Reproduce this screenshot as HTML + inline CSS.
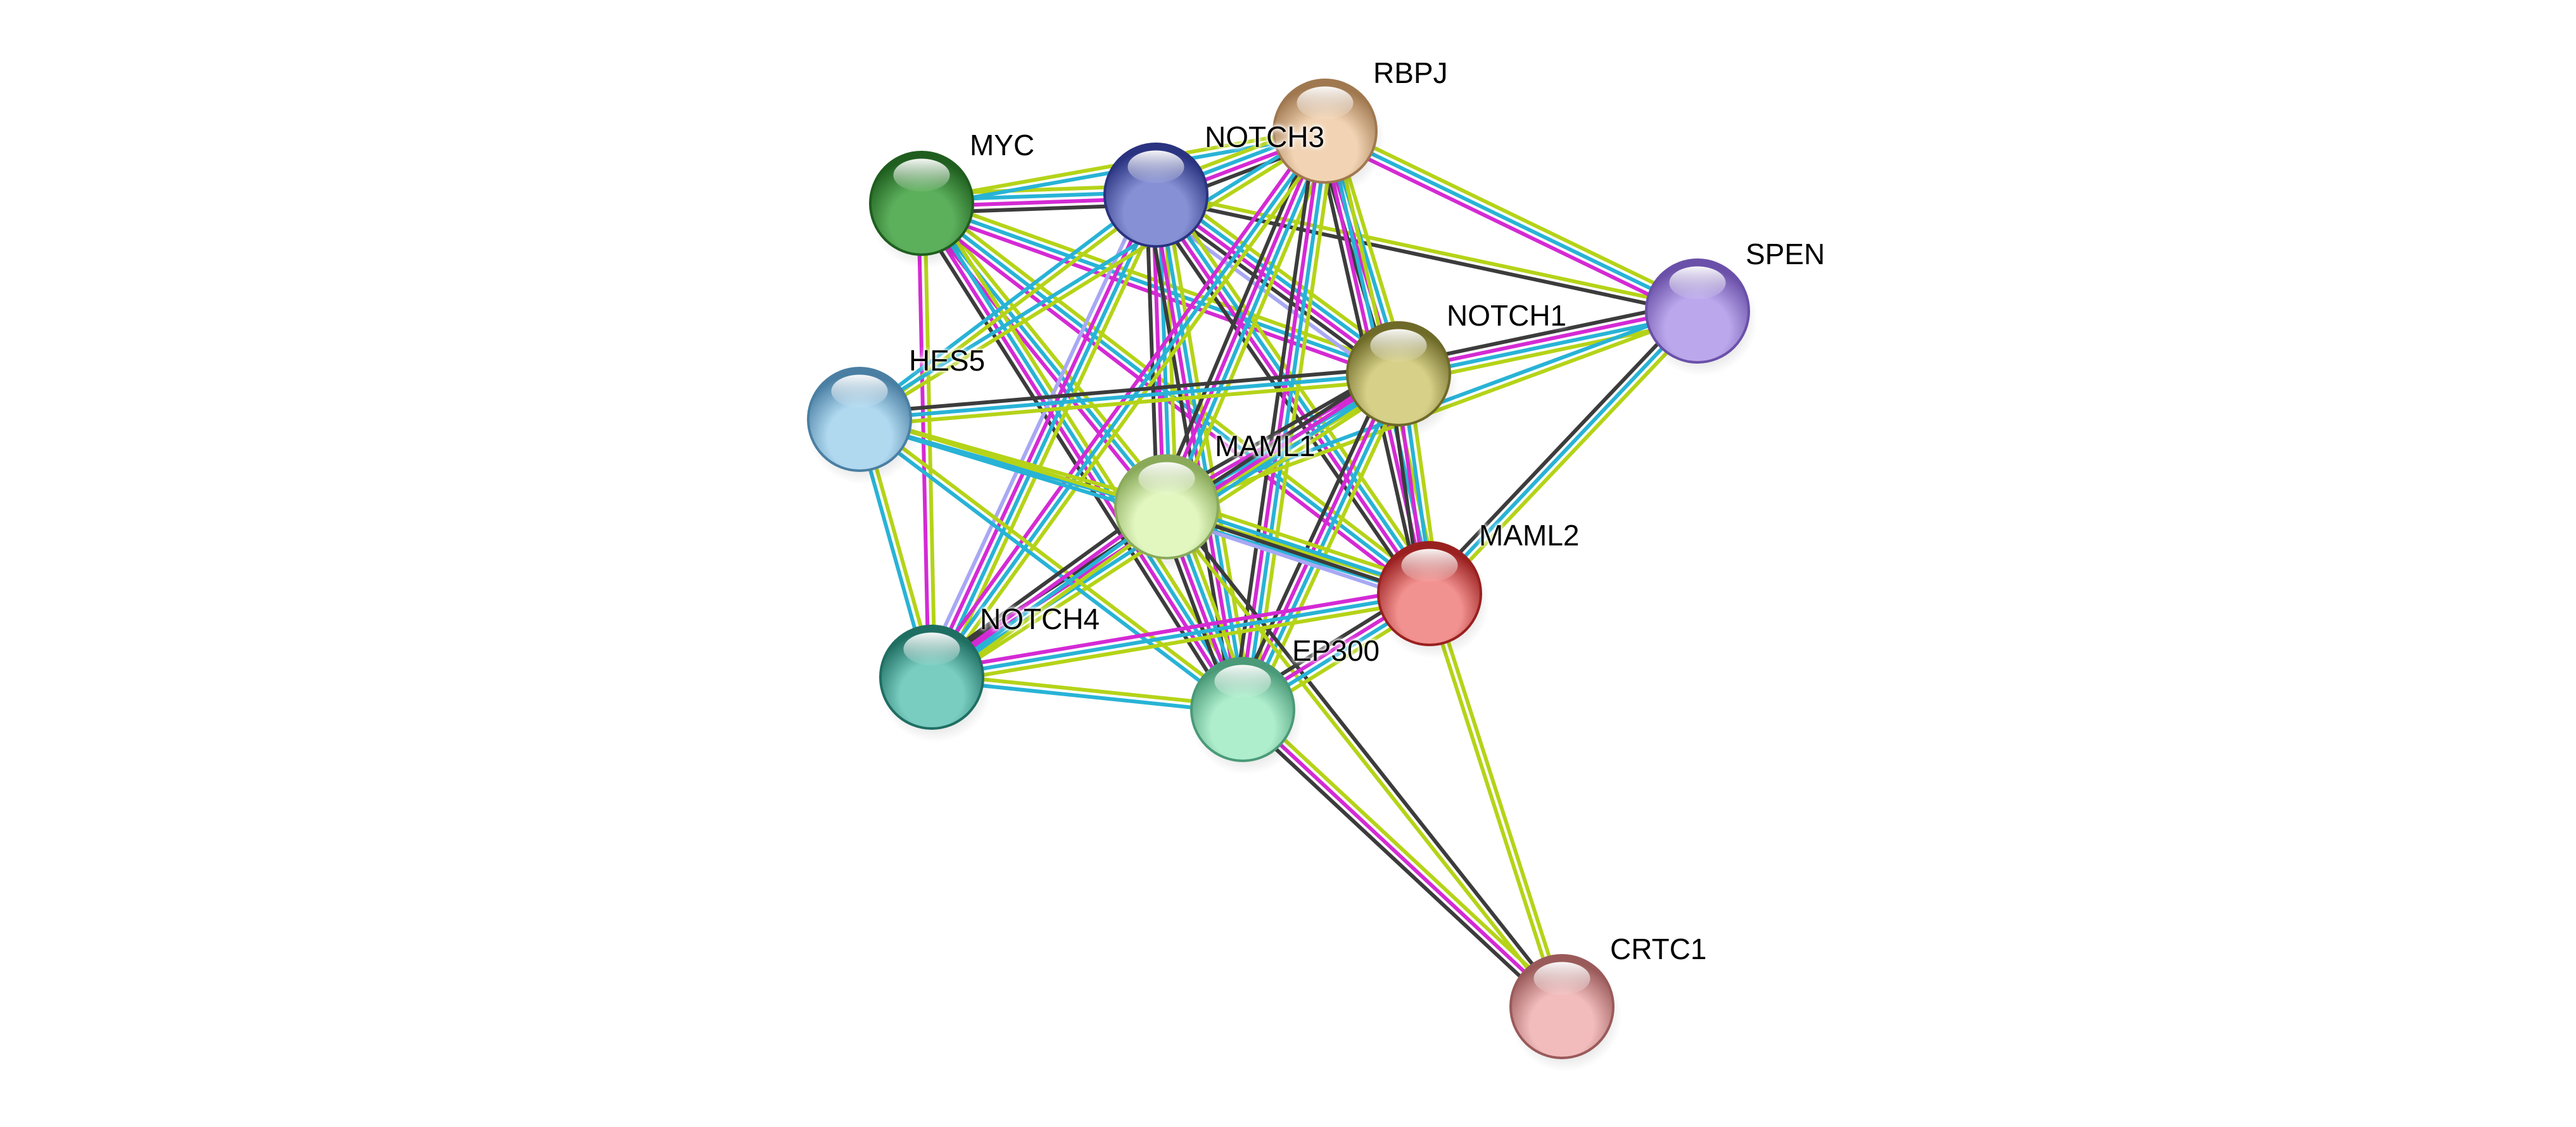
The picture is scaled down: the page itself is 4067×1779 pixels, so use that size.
<!DOCTYPE html>
<html><head><meta charset="utf-8"><style>
html,body{margin:0;padding:0;background:#fff;}
#wrap{position:relative;width:4067px;height:1779px;overflow:hidden;background:#fff;}
svg{position:absolute;left:0;top:0;}
.lb{position:absolute;font-family:"Liberation Sans",sans-serif;font-size:46px;color:#000;line-height:1;text-shadow:0 0 6px #fff,0 0 6px #fff,0 0 10px #fff;white-space:nowrap;}
</style></head><body><div id="wrap">
<svg id="s" width="4067" height="1779" viewBox="0 0 4067 1779"></svg>
<div class="lb" style="left:1531px;top:206px">MYC</div>
<div class="lb" style="left:1902px;top:193px">NOTCH3</div>
<div class="lb" style="left:2168px;top:92px">RBPJ</div>
<div class="lb" style="left:2756px;top:378px">SPEN</div>
<div class="lb" style="left:2284px;top:475px">NOTCH1</div>
<div class="lb" style="left:1435px;top:546px">HES5</div>
<div class="lb" style="left:1918px;top:681px">MAML1</div>
<div class="lb" style="left:2335px;top:822px">MAML2</div>
<div class="lb" style="left:1547px;top:954px">NOTCH4</div>
<div class="lb" style="left:2040px;top:1004px">EP300</div>
<div class="lb" style="left:2542px;top:1475px">CRTC1</div>
</div>
<script>
var N={
MYC:[1455,321,'#5cb05c','#1f5e1f'],
NOTCH3:[1825,308,'#8690d4','#2a3380'],
RBPJ:[2092,207,'#f2d4b4','#a07850'],
SPEN:[2680,491,'#bba8ec','#6a50a8'],
NOTCH1:[2208,590,'#d6d088','#6e6a28'],
HES5:[1357,662,'#b0d9f0','#4a7fa3'],
MAML1:[1842,800,'#e2f7c0','#8aaa5a'],
MAML2:[2257,937,'#f29290','#9a2020'],
NOTCH4:[1471,1069,'#78ccc0','#1f6e62'],
EP300:[1962,1120,'#aeeecd','#4a9a78'],
CRTC1:[2466,1589,'#f2bcbc','#9a5a5a']
};
var C={y:'#b5d318',c:'#28b3d6',m:'#d42ad4',k:'#3c3c3c',l:'#a8a8f4'};
var E=[
['MYC','NOTCH3','ycmk'],['MYC','RBPJ','yc'],['MYC','NOTCH1','ycm'],['MYC','MAML1','ycm'],['MYC','MAML2','ycm'],['MYC','EP300','ycmk'],['MYC','NOTCH4','ym'],
['NOTCH3','RBPJ','ycmk'],['NOTCH3','SPEN','yk'],['NOTCH3','NOTCH1','ycmkl'],['NOTCH3','HES5','yc'],['NOTCH3','MAML1','ycmk'],['NOTCH3','MAML2','ycmk'],['NOTCH3','NOTCH4','ycml'],['NOTCH3','EP300','ycmk'],
['RBPJ','SPEN','ycm'],['RBPJ','NOTCH1','ycmk'],['RBPJ','HES5','yc'],['RBPJ','MAML1','ycmk'],['RBPJ','MAML2','ycmk'],['RBPJ','NOTCH4','ycm'],['RBPJ','EP300','ycmk'],
['SPEN','NOTCH1','ycmk'],['SPEN','MAML2','yck'],['SPEN','MAML1','yc'],
['NOTCH1','HES5','yck'],['NOTCH1','MAML1','ycmk'],['NOTCH1','MAML2','ycmk'],['NOTCH1','NOTCH4','ycmk'],['NOTCH1','EP300','ycmk'],
['HES5','MAML1','yc'],['HES5','MAML2','yc'],['HES5','NOTCH4','yc'],['HES5','EP300','yc'],
['MAML1','MAML2','yckl'],['MAML1','NOTCH4','ycmk'],['MAML1','EP300','ycmk'],['MAML1','CRTC1','ky'],
['MAML2','NOTCH4','ycm'],['MAML2','EP300','ycmk'],['MAML2','CRTC1','yy'],
['NOTCH4','EP300','yc'],['EP300','CRTC1','ymk']
];
var s='<defs>';
for(var k in N){var n=N[k];
s+='<radialGradient id="g'+k+'" cx="50%" cy="68%" r="62%"><stop offset="0" stop-color="'+n[2]+'"/><stop offset="0.5" stop-color="'+n[2]+'"/><stop offset="1" stop-color="'+n[3]+'"/></radialGradient>';}
s+='<linearGradient id="hl" x1="0" y1="0" x2="0" y2="1"><stop offset="0" stop-color="#fff" stop-opacity="0.95"/><stop offset="1" stop-color="#fff" stop-opacity="0.05"/></linearGradient>';
s+='<radialGradient id="sh"><stop offset="0" stop-color="#000" stop-opacity="0.35"/><stop offset="1" stop-color="#000" stop-opacity="0"/></radialGradient></defs>';
E.forEach(function(e){var a=N[e[0]],b=N[e[1]],cs=e[2];var dx=b[0]-a[0],dy=b[1]-a[1],L=Math.hypot(dx,dy);var px=-dy/L,py=dx/L;var sp=10;
for(var i=0;i<cs.length;i++){var o=(i-(cs.length-1)/2)*sp;
s+='<line x1="'+(a[0]+px*o)+'" y1="'+(a[1]+py*o)+'" x2="'+(b[0]+px*o)+'" y2="'+(b[1]+py*o)+'" stroke="'+C[cs[i]]+'" stroke-width="6"/>';}});
for(var k in N){var n=N[k],x=n[0],y=n[1],r=81;
s+='<ellipse cx="'+(x+6)+'" cy="'+(y+14)+'" rx="'+(r+8)+'" ry="'+(r+8)+'" fill="url(#sh)"/>';
s+='<circle cx="'+x+'" cy="'+y+'" r="'+r+'" fill="url(#g'+k+')" stroke="'+n[3]+'" stroke-width="4"/>';
s+='<ellipse cx="'+x+'" cy="'+(y-r*0.55)+'" rx="'+(r*0.55)+'" ry="'+(r*0.32)+'" fill="url(#hl)"/>';}
document.getElementById('s').innerHTML=s;
</script></body></html>
